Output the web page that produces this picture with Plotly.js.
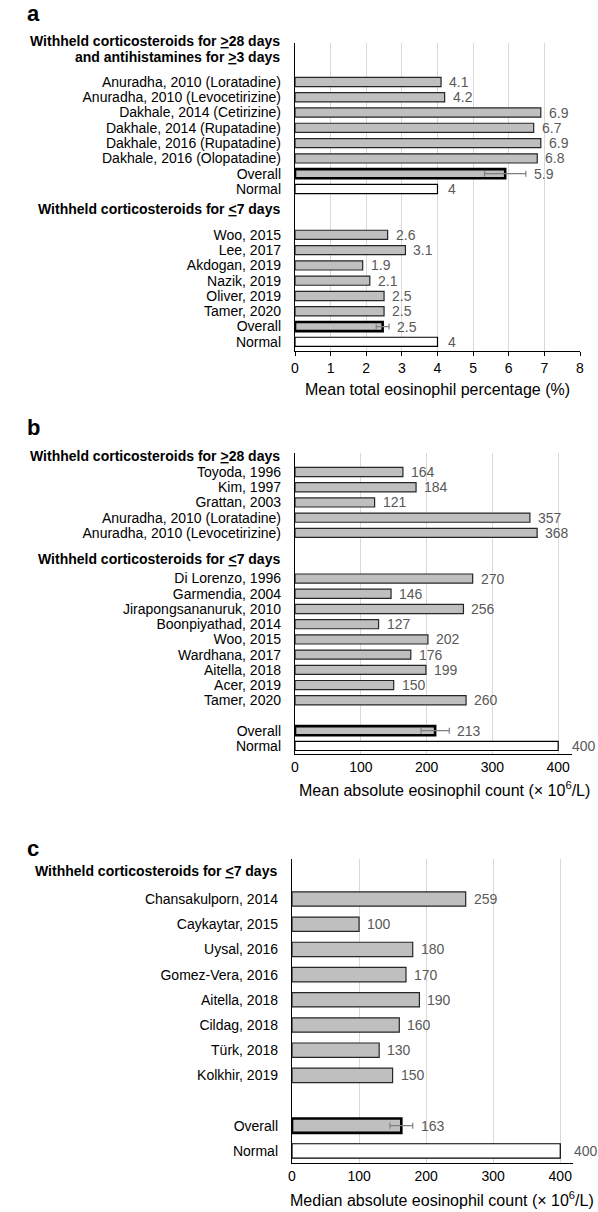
<!DOCTYPE html>
<html><head><meta charset="utf-8">
<script src="https://cdn.plot.ly/plotly-3.0.1.min.js"></script>
<style>html,body{margin:0;padding:0;background:#fff;}</style>
</head><body><div id="chart" style="width:598px;height:1212px;"></div>
<script>
// ---------- Panel a data ----------
const aStudies1 = ['Anuradha, 2010 (Loratadine)', 'Anuradha, 2010 (Levocetirizine)', 'Dakhale, 2014 (Cetirizine)',
  'Dakhale, 2014 (Rupatadine)', 'Dakhale, 2016 (Rupatadine)', 'Dakhale, 2016 (Olopatadine)'];
const aValues1 = [4.1, 4.2, 6.9, 6.7, 6.9, 6.8];
const aOverall1 = 5.9;
const aOverall1Err = 0.58;
const aStudies2 = ['Woo, 2015', 'Lee, 2017', 'Akdogan, 2019', 'Nazik, 2019', 'Oliver, 2019', 'Tamer, 2020'];
const aValues2 = [2.6, 3.1, 1.9, 2.1, 2.5, 2.5];
const aOverall2 = 2.46;
const aOverall2Err = 0.18;
const aNormal = 4;
const aTicks = [0, 1, 2, 3, 4, 5, 6, 7, 8];
const aHeader1 = ['Withheld corticosteroids for <u>&gt;</u>28 days', 'and antihistamines for <u>&gt;</u>3 days'];
const aHeader2 = 'Withheld corticosteroids for <u>&lt;</u>7 days';
const aTitle = 'Mean total eosinophil percentage (%)';

// ---------- Panel b data ----------
const bStudies1 = ['Toyoda, 1996', 'Kim, 1997', 'Grattan, 2003', 'Anuradha, 2010 (Loratadine)', 'Anuradha, 2010 (Levocetirizine)'];
const bValues1 = [164, 184, 121, 357, 368];
const bStudies2 = ['Di Lorenzo, 1996', 'Garmendia, 2004', 'Jirapongsananuruk, 2010', 'Boonpiyathad, 2014', 'Woo, 2015',
  'Wardhana, 2017', 'Aitella, 2018', 'Acer, 2019', 'Tamer, 2020'];
const bValues2 = [270, 146, 256, 127, 202, 176, 199, 150, 260];
const bOverall = 213;
const bOverallErr = 21.5;
const bNormal = 400;
const bTicks = [0, 100, 200, 300, 400];
const bHeader1 = 'Withheld corticosteroids for <u>&gt;</u>28 days';
const bHeader2 = 'Withheld corticosteroids for <u>&lt;</u>7 days';
const bTitle = 'Mean absolute eosinophil count (× 10<sup>6</sup>/L)';

// ---------- Panel c data ----------
const cStudies = ['Chansakulporn, 2014', 'Caykaytar, 2015', 'Uysal, 2016', 'Gomez-Vera, 2016', 'Aitella, 2018',
  'Cildag, 2018', 'Türk, 2018', 'Kolkhir, 2019'];
const cValues = [259, 100, 180, 170, 190, 160, 130, 150];
const cOverall = 163;
const cOverallErr = 17;
const cNormal = 400;
const cTicks = [0, 100, 200, 300, 400];
const cHeader = 'Withheld corticosteroids for <u>&lt;</u>7 days';
const cTitle = 'Median absolute eosinophil count (× 10<sup>6</sup>/L)';

// ---------- styling ----------
const FONT = 'Liberation Sans, Arial, Helvetica, sans-serif';
const BAR_FILL = '#bfbfbf';
const BAR_EDGE = '#262626';
const VAL_COLOR = '#595959';
const W = 598, H = 1212;
const px = v => v / W;
const py = v => 1 - v / H;

function rows(start, n) { return Array.from({length: n}, (_, i) => start + i); }
function fmt(v) { return String(parseFloat(v.toFixed(1))); }

const traces = [];
const annotations = [];

function addPanel(o) {
  traces.push({
    type: 'bar', orientation: 'h', x: o.studyVals, y: o.studyRows, width: o.bw,
    xaxis: o.xa, yaxis: o.ya, hoverinfo: 'skip',
    marker: {color: BAR_FILL, line: {color: BAR_EDGE, width: 1.2}}
  });
  traces.push({
    type: 'bar', orientation: 'h', x: o.overallVals, y: o.overallRows, width: o.bw,
    xaxis: o.xa, yaxis: o.ya, hoverinfo: 'skip',
    marker: {color: BAR_FILL, line: {color: '#000', width: 2.6}},
    error_x: {type: 'data', array: o.overallErrs, visible: true, color: '#7f7f7f', thickness: 1.2, width: 3}
  });
  traces.push({
    type: 'bar', orientation: 'h', x: o.normalVals, y: o.normalRows, width: o.bw,
    xaxis: o.xa, yaxis: o.ya, hoverinfo: 'skip',
    marker: {color: '#ffffff', line: {color: '#000', width: 1.2}}
  });
  const xr = o.xa, yr = o.ya;
  o.studyVals.forEach((v, i) => annotations.push({
    xref: xr, yref: yr, x: v, y: o.studyRows[i], text: fmt(v), showarrow: false,
    xanchor: 'left', yanchor: 'middle', xshift: 6, font: {size: 14, color: VAL_COLOR}
  }));
  o.overallVals.forEach((v, i) => annotations.push({
    xref: xr, yref: yr, x: v + o.overallErrs[i], y: o.overallRows[i], text: fmt(v), showarrow: false,
    xanchor: 'left', yanchor: 'middle', xshift: 6, font: {size: 14, color: VAL_COLOR}
  }));
  o.normalVals.forEach((v, i) => annotations.push({
    xref: xr, yref: yr, x: v, y: o.normalRows[i], text: fmt(v), showarrow: false,
    xanchor: 'left', yanchor: 'middle', xshift: o.normalShift, font: {size: 14, color: VAL_COLOR}
  }));
  o.headers.forEach(h => annotations.push({
    xref: 'paper', yref: 'paper', x: o.headerX, y: py(h.y), text: '<b>' + h.text + '</b>', showarrow: false,
    xanchor: 'right', yanchor: 'middle', font: {size: 14, color: '#000'}
  }));
  annotations.push({
    xref: 'paper', yref: 'paper', x: px(o.letterX), y: py(o.letterY), text: '<b>' + o.letter + '</b>',
    showarrow: false, xanchor: 'left', yanchor: 'middle', font: {size: 22, color: '#000'}
  });
  annotations.push({
    xref: 'paper', yref: 'paper', x: px(o.titleX), y: py(o.titleY), text: o.title,
    showarrow: false, xanchor: 'center', yanchor: 'middle', font: {size: 16, color: '#000'}
  });
}

// Panel a rows
const aRows1 = rows(0, aStudies1.length);
const aRowO1 = aStudies1.length, aRowN1 = aStudies1.length + 1;
const aStart2 = aRowN1 + 3;
const aRows2 = rows(aStart2, aStudies2.length);
const aRowO2 = aStart2 + aStudies2.length, aRowN2 = aRowO2 + 1;
addPanel({
  xa: 'x', ya: 'y', bw: 0.6, normalShift: 8,
  studyVals: aValues1.concat(aValues2), studyRows: aRows1.concat(aRows2),
  overallVals: [aOverall1, aOverall2], overallRows: [aRowO1, aRowO2], overallErrs: [aOverall1Err, aOverall2Err],
  normalVals: [aNormal, aNormal], normalRows: [aRowN1, aRowN2],
  headers: [{text: aHeader1[0], y: 41.5}, {text: aHeader1[1], y: 57}, {text: aHeader2, y: 209}],
  headerX: px(282), letter: 'a', letterX: 25, letterY: 14, title: aTitle, titleX: 437.5, titleY: 389
});

// Panel b rows
const bRows1 = rows(0, bStudies1.length);
const bStart2 = bStudies1.length + 2;
const bRows2 = rows(bStart2, bStudies2.length);
const bRowO = bStart2 + bStudies2.length + 1, bRowN = bRowO + 1;
addPanel({
  xa: 'x2', ya: 'y2', bw: 0.6, normalShift: 12,
  studyVals: bValues1.concat(bValues2), studyRows: bRows1.concat(bRows2),
  overallVals: [bOverall], overallRows: [bRowO], overallErrs: [bOverallErr],
  normalVals: [bNormal], normalRows: [bRowN],
  headers: [{text: bHeader1, y: 456}, {text: bHeader2, y: 559}],
  headerX: px(282), letter: 'b', letterX: 25, letterY: 428, title: bTitle, titleX: 445, titleY: 789
});

// Panel c rows
const cRows = rows(0, cStudies.length);
const cRowO = cStudies.length + 1, cRowN = cRowO + 1;
addPanel({
  xa: 'x3', ya: 'y3', bw: 0.57, normalShift: 12,
  studyVals: cValues, studyRows: cRows,
  overallVals: [cOverall], overallRows: [cRowO], overallErrs: [cOverallErr],
  normalVals: [cNormal], normalRows: [cRowN],
  headers: [{text: cHeader, y: 871}],
  headerX: px(279), letter: 'c', letterX: 25, letterY: 848, title: cTitle, titleX: 442, titleY: 1199
});

function xAxis(domain, range, ticks, anchor, withTicks) {
  return {
    domain: domain, range: range, anchor: anchor, tickvals: ticks, ticktext: ticks.map(String),
    showgrid: true, gridcolor: '#d9d9d9', gridwidth: 1, zeroline: false,
    showline: true, linecolor: '#000', linewidth: 1,
    ticks: withTicks ? 'outside' : '', ticklen: 4, tickcolor: '#000', tickwidth: 1,
    tickfont: {size: 14, color: '#000'}, fixedrange: true
  };
}
function yAxis(domain, range, tv, tt, anchor) {
  return {
    domain: domain, range: range, anchor: anchor, tickvals: tv, ticktext: tt,
    showgrid: false, zeroline: false, showline: true, linecolor: '#000', linewidth: 1.2,
    ticks: '', ticklabelstandoff: 10, tickfont: {size: 14, color: '#000'}, fixedrange: true
  };
}

const aTickRows = aRows1.concat([aRowO1, aRowN1], aRows2, [aRowO2, aRowN2]);
const aTickText = aStudies1.concat(['Overall', 'Normal'], aStudies2, ['Overall', 'Normal']);
const bTickRows = bRows1.concat(bRows2, [bRowO, bRowN]);
const bTickText = bStudies1.concat(bStudies2, ['Overall', 'Normal']);
const cTickRows = cRows.concat([cRowO, cRowN]);
const cTickText = cStudies.concat(['Overall', 'Normal']);

const layout = {
  width: W, height: H, margin: {l: 0, r: 0, t: 0, b: 0, pad: 0},
  paper_bgcolor: '#ffffff', plot_bgcolor: 'rgba(0,0,0,0)',
  barmode: 'overlay', showlegend: false,
  font: {family: FONT, size: 14, color: '#000'},
  xaxis: xAxis([px(295), px(580)], [0, 8], aTicks, 'y', true),
  yaxis: yAxis([py(351), py(43)], [17.6, -2.55], aTickRows, aTickText, 'x'),
  xaxis2: xAxis([px(295), px(572)], [0, 421], bTicks, 'y2', false),
  yaxis2: yAxis([py(754), py(453)], [18.53, -1.25], bTickRows, bTickText, 'x2'),
  xaxis3: xAxis([px(292), px(573)], [0, 419], cTicks, 'y3', false),
  yaxis3: yAxis([py(1163), py(859)], [10.48, -1.59], cTickRows, cTickText, 'x3'),
  annotations: annotations
};

Plotly.newPlot('chart', traces, layout, {displayModeBar: false, staticPlot: true});
</script></body></html>
